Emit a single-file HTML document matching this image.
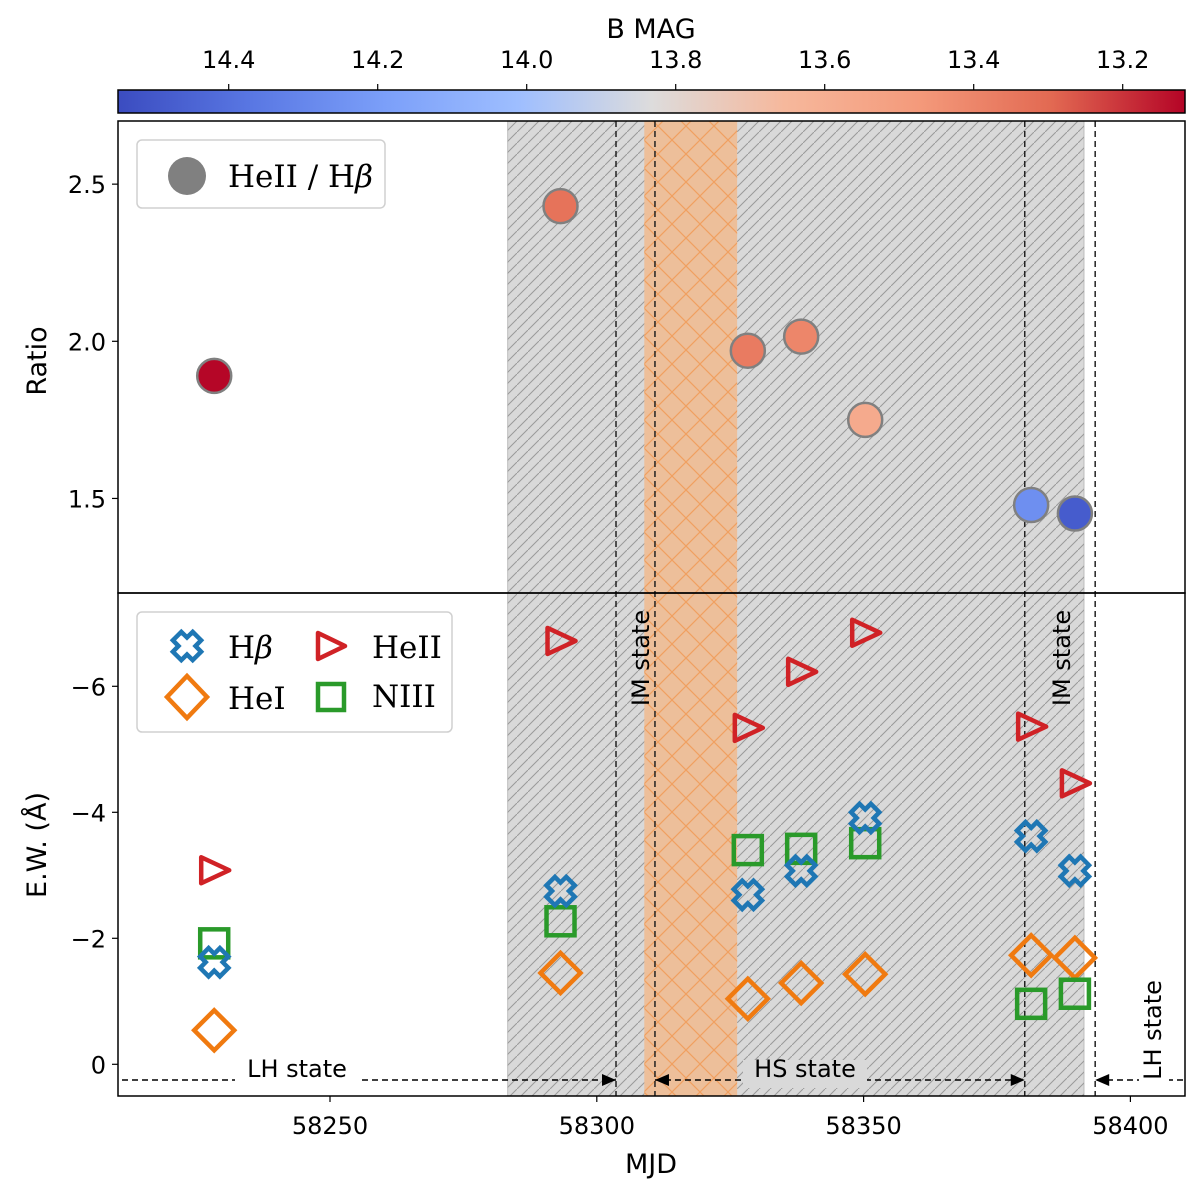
<!DOCTYPE html>
<html><head><meta charset="utf-8"><style>
body{margin:0;background:#fff}
svg{display:block}
text{font-family:"DejaVu Sans","Liberation Sans",sans-serif;fill:#000}
.serif{font-family:"DejaVu Serif","Liberation Serif",serif}
</style></head><body>
<svg id="fig" width="1200" height="1194" viewBox="0 0 1200 1194" xmlns="http://www.w3.org/2000/svg">
<defs>
<linearGradient id="cmap" x1="0" x2="1" y1="0" y2="0">
<stop offset="0" stop-color="#3b4cc0"/><stop offset="0.125" stop-color="#5977e3"/><stop offset="0.25" stop-color="#7b9ff9"/><stop offset="0.375" stop-color="#9ebeff"/><stop offset="0.5" stop-color="#dddcdc"/><stop offset="0.625" stop-color="#f6b89c"/><stop offset="0.75" stop-color="#f49a7b"/><stop offset="0.875" stop-color="#e26952"/><stop offset="1" stop-color="#b40426"/>
</linearGradient>
<pattern id="hatchGray" patternUnits="userSpaceOnUse" width="11" height="11">
<line x1="-1" y1="12" x2="12" y2="-1" stroke="#9a9a9a" stroke-width="1"/>
</pattern>
<pattern id="hatchOrange" patternUnits="userSpaceOnUse" width="28" height="28">
<line x1="0" y1="28" x2="28" y2="0" stroke="#f0a060" stroke-width="1.2"/>
<line x1="0" y1="0" x2="28" y2="28" stroke="#f0a060" stroke-width="1.2"/>
</pattern>
<clipPath id="clipAll"><rect x="118" y="121" width="1067" height="975"/></clipPath>
</defs>
<g id="regions" clip-path="url(#clipAll)"></g>
<g id="marks"></g>
<g id="frame"></g>
</svg>
<script>
const mjdTop = [58228.3, 58293.2, 58328.3, 58338.3, 58350.3, 58381.4, 58389.6];
const ratioVals = [1.89, 2.43, 1.97, 2.015, 1.75, 1.479, 1.452];
const bmagVals = [13.12, 13.33, 13.36, 13.40, 13.57, 14.26, 14.48];
const ewHbeta = [-1.62, -2.75, -2.69, -3.07, -3.91, -3.62, -3.07];
const ewHeI = [-0.54, -1.45, -1.04, -1.29, -1.43, -1.73, -1.69];
const ewHeII = [-3.08, -6.72, -5.34, -6.23, -6.85, -5.36, -4.46];
const ewNIII = [-1.92, -2.27, -3.40, -3.42, -3.51, -0.96, -1.12];
const xTicks = [58250, 58300, 58350, 58400];
const ratioTicks = [1.5, 2.0, 2.5];
const ewTicks = [0, -2, -4, -6];
const cbTicks = [14.4, 14.2, 14.0, 13.8, 13.6, 13.4, 13.2];
const grayRegion = [58283.3, 58391.3];
const orangeRegion = [58308.9, 58326.3];
const dashedLines = [58303.6, 58310.9, 58380.2, 58393.4];

const NS = "http://www.w3.org/2000/svg";
const X0 = 118, X1 = 1185, TT = 121, TB = 593, BB = 1096;
const xs = m => 330 + (m - 58250) * 5.336;
const yr = v => 341.3 - (v - 2.0) * 314.3;
const ye = v => 1064.3 + v * 63;
const cbx = m => 228.7 + (14.4 - m) * 745;
const magMin = 14.548, magMax = 13.116;
const stops = [[59,76,192],[89,119,227],[123,159,249],[158,190,255],[221,220,220],[246,184,156],[244,154,123],[226,105,82],[180,4,38]];
function cmap(m){
  let t = (magMin - m) / (magMin - magMax); t = Math.max(0, Math.min(1, t));
  const p = t * 8, i = Math.min(7, Math.floor(p)), f = p - i;
  const c = stops[i].map((v,k)=>Math.round(v + (stops[i+1][k]-v)*f));
  return `rgb(${c[0]},${c[1]},${c[2]})`;
}
function el(tag, attrs, parent, txt){
  const e = document.createElementNS(NS, tag);
  for (const k in attrs) e.setAttribute(k, attrs[k]);
  if (txt !== undefined) e.textContent = txt;
  parent.appendChild(e); return e;
}
const R = document.getElementById('regions'), M = document.getElementById('marks'), F = document.getElementById('frame');

let g1 = el('rect', {x: xs(grayRegion[0]), y: TT, width: xs(grayRegion[1]) - xs(grayRegion[0]), height: BB - TT, fill: '#d9d9d9', stroke:'#bdbdbd'}, R);


let g2 = el('rect', {x: xs(grayRegion[0]), y: TT, width: xs(grayRegion[1]) - xs(grayRegion[0]), height: BB - TT, fill: 'url(#hatchGray)'}, R);


let o1 = el('rect', {x: xs(orangeRegion[0]), y: TT, width: xs(orangeRegion[1]) - xs(orangeRegion[0]), height: BB - TT, fill: '#edbf9a'}, R);


let o2 = el('rect', {x: xs(orangeRegion[0]), y: TT, width: xs(orangeRegion[1]) - xs(orangeRegion[0]), height: BB - TT, fill: 'url(#hatchOrange)'}, R);


dashedLines.forEach(d => {
  const l = el('line', {x1: xs(d), x2: xs(d), y1: TT, y2: BB, stroke: '#222', 'stroke-width': 1.5, 'stroke-dasharray': '6,4'}, R);
  
  
});

let cb = el('rect', {x: X0, y: 90, width: X1 - X0, height: 23, fill: 'url(#cmap)', stroke: '#000', 'stroke-width': 1.5}, F);


cbTicks.forEach(t => {
  el('line', {x1: cbx(t), x2: cbx(t), y1: 84, y2: 90, stroke: '#000', 'stroke-width': 1.2}, F);
  const tx = el('text', {x: cbx(t), y: 68, 'font-size': 24, 'text-anchor': 'middle'}, F, t.toFixed(1));
  
  
});
let cbt = el('text', {x: 651, y: 38, 'font-size': 27, 'text-anchor': 'middle'}, F, 'B MAG');



mjdTop.forEach((m, i) => {
  const c = el('circle', {cx: xs(m), cy: yr(ratioVals[i]), r: 17, fill: cmap(bmagVals[i]), stroke: '#808080', 'stroke-width': 2.5}, M);
  
  
});

const C_HB = '#1f77b4', C_HEI = '#f07a10', C_HEII = '#d02226', C_NIII = '#2a9a2a';
function xMarker(cx, cy){
  const a = 6, b = 14;
  const pts = [[-a,-b],[a,-b],[a,-a],[b,-a],[b,a],[a,a],[a,b],[-a,b],[-a,a],[-b,a],[-b,-a],[-a,-a]];
  return pts.map(([x,y]) => { const rx = (x - y)*0.7071, ry = (x + y)*0.7071; return (cx+rx).toFixed(1)+','+(cy+ry).toFixed(1); }).join(' ');
}
mjdTop.forEach((m, i) => {
  const x = xs(m);
  const d = el('polygon', {points: `${x},${ye(ewHeI[i])-20} ${x+20},${ye(ewHeI[i])} ${x},${ye(ewHeI[i])+20} ${x-20},${ye(ewHeI[i])}`, fill: 'none', stroke: C_HEI, 'stroke-width': 4.5}, M);
  
  
  const s = el('rect', {x: x-14, y: ye(ewNIII[i])-14, width: 28, height: 28, fill: 'none', stroke: C_NIII, 'stroke-width': 4.5}, M);
  
  
  const h = el('polygon', {points: xMarker(x, ye(ewHbeta[i])), fill: 'none', stroke: C_HB, 'stroke-width': 4.5}, M);
  
  
  const y = ye(ewHeII[i]);
  const t = el('polygon', {points: `${x-13},${y-13} ${x+15},${y} ${x-13},${y+13}`, fill: 'none', stroke: C_HEII, 'stroke-width': 4.5, 'stroke-linejoin': 'round'}, M);
  
  
});

function arrowHead(x, y, dir){
  return `${x},${y} ${x - dir*14},${y-6} ${x - dir*14},${y+6}`;
}
const ay = 1080;
[[X0+4, xs(dashedLines[0]), 'LH state', 297, [1]], [xs(dashedLines[1]), xs(dashedLines[2]), 'HS state', 805, [-1,1]]].forEach(a => {
  const l = el('line', {x1: a[0], x2: a[1], y1: ay, y2: ay, stroke: '#000', 'stroke-width': 1.5, 'stroke-dasharray': '6,4'}, M);
  
  
  a[4].forEach(dir => el('polygon', {points: arrowHead(dir > 0 ? a[1] : a[0], ay, dir), fill: '#000'}, M));
  el('rect', {x: a[3]-62, y: ay-20, width: 124, height: 28, fill: a[2]==='LH state' ? '#fff' : '#d9d9d9'}, M);
  const t = el('text', {x: a[3], y: ay-3, 'font-size': 24, 'text-anchor': 'middle'}, M, a[2]);
  
  
});
let rl = el('line', {x1: X1-2, x2: xs(dashedLines[3]), y1: ay, y2: ay, stroke: '#000', 'stroke-width': 1.5, 'stroke-dasharray': '6,4'}, M);


el('polygon', {points: arrowHead(xs(dashedLines[3]), ay, -1), fill: '#000'}, M);
el('rect', {x: 1139, y: 970, width: 30, height: 124, fill: '#fff'}, M);
[[641, 658, 'IM state', 'im-state-label-1'], [1062, 658, 'IM state', 'im-state-label-2'], [1153, 1030, 'LH state', 'lh-state-label-right']].forEach(a => {
  const t = el('text', {x: a[0], y: a[1], 'font-size': 24, 'text-anchor': 'middle', transform: `rotate(-90 ${a[0]} ${a[1]})`, dy: 8}, M, a[2]);
  
  
});

let ft = el('rect', {x: X0, y: TT, width: X1-X0, height: TB-TT, fill: 'none', stroke: '#000', 'stroke-width': 1.5}, F);


let fb = el('rect', {x: X0, y: TB, width: X1-X0, height: BB-TB, fill: 'none', stroke: '#000', 'stroke-width': 1.5}, F);


ratioTicks.forEach(t => {
  el('line', {x1: X0-6, x2: X0, y1: yr(t), y2: yr(t), stroke: '#000', 'stroke-width': 1.2}, F);
  const tx = el('text', {x: X0-12, y: yr(t)+9, 'font-size': 24, 'text-anchor': 'end'}, F, t.toFixed(1));
  
  
});
ewTicks.forEach(t => {
  el('line', {x1: X0-6, x2: X0, y1: ye(t), y2: ye(t), stroke: '#000', 'stroke-width': 1.2}, F);
  const tx = el('text', {x: X0-12, y: ye(t)+9, 'font-size': 24, 'text-anchor': 'end'}, F, t === 0 ? '0' : '\u2212' + Math.abs(t));
  
  
});
xTicks.forEach(t => {
  el('line', {x1: xs(t), x2: xs(t), y1: BB, y2: BB+6, stroke: '#000', 'stroke-width': 1.2}, F);
  const tx = el('text', {x: xs(t), y: BB+38, 'font-size': 24, 'text-anchor': 'middle'}, F, t);
  
  
});
let xl = el('text', {x: 651, y: 1173, 'font-size': 27, 'text-anchor': 'middle'}, F, 'MJD');


let yl1 = el('text', {x: 46, y: 361, 'font-size': 27, 'text-anchor': 'middle', transform: 'rotate(-90 46 361)'}, F, 'Ratio');


let yl2 = el('text', {x: 46, y: 845, 'font-size': 27, 'text-anchor': 'middle', transform: 'rotate(-90 46 845)'}, F, 'E.W. (Å)');



let lg1 = el('rect', {x: 137, y: 140, width: 248, height: 68, rx: 5, fill: '#fff', 'fill-opacity': 0.85, stroke: '#d0d0d0', 'stroke-width': 1.5}, F);


el('circle', {cx: 187, cy: 176, r: 19, fill: '#808080'}, F);
let lt1 = el('text', {x: 228, y: 187, 'font-size': 31, class: 'serif'}, F);


el('tspan', {}, lt1, 'HeII / H');
el('tspan', {'font-style': 'italic'}, lt1, 'β');

let lg2 = el('rect', {x: 137, y: 612, width: 315, height: 120, rx: 5, fill: '#fff', 'fill-opacity': 0.85, stroke: '#d0d0d0', 'stroke-width': 1.5}, F);


el('polygon', {points: xMarker(187, 646), fill: 'none', stroke: C_HB, 'stroke-width': 4.5}, F);
el('polygon', {points: '187,676 207,697 187,718 167,697', fill: 'none', stroke: C_HEI, 'stroke-width': 4.5}, F);
el('polygon', {points: '318,633 345,646 318,659', fill: 'none', stroke: C_HEII, 'stroke-width': 4.5, 'stroke-linejoin': 'round'}, F);
el('rect', {x: 318, y: 684, width: 26, height: 26, fill: 'none', stroke: C_NIII, 'stroke-width': 4.5}, F);
let hb = el('text', {x: 228, y: 658, 'font-size': 31, class: 'serif'}, F);


el('tspan', {}, hb, 'H');
el('tspan', {'font-style': 'italic'}, hb, 'β');
[[228, 709, 'HeI', 'legend-entry-hei'], [372, 658, 'HeII', 'legend-entry-heii'], [372, 707, 'NIII', 'legend-entry-niii']].forEach(a => {
  const t = el('text', {x: a[0], y: a[1], 'font-size': 31, class: 'serif'}, F, a[2]);
  
  
});
</script>
</body></html>
